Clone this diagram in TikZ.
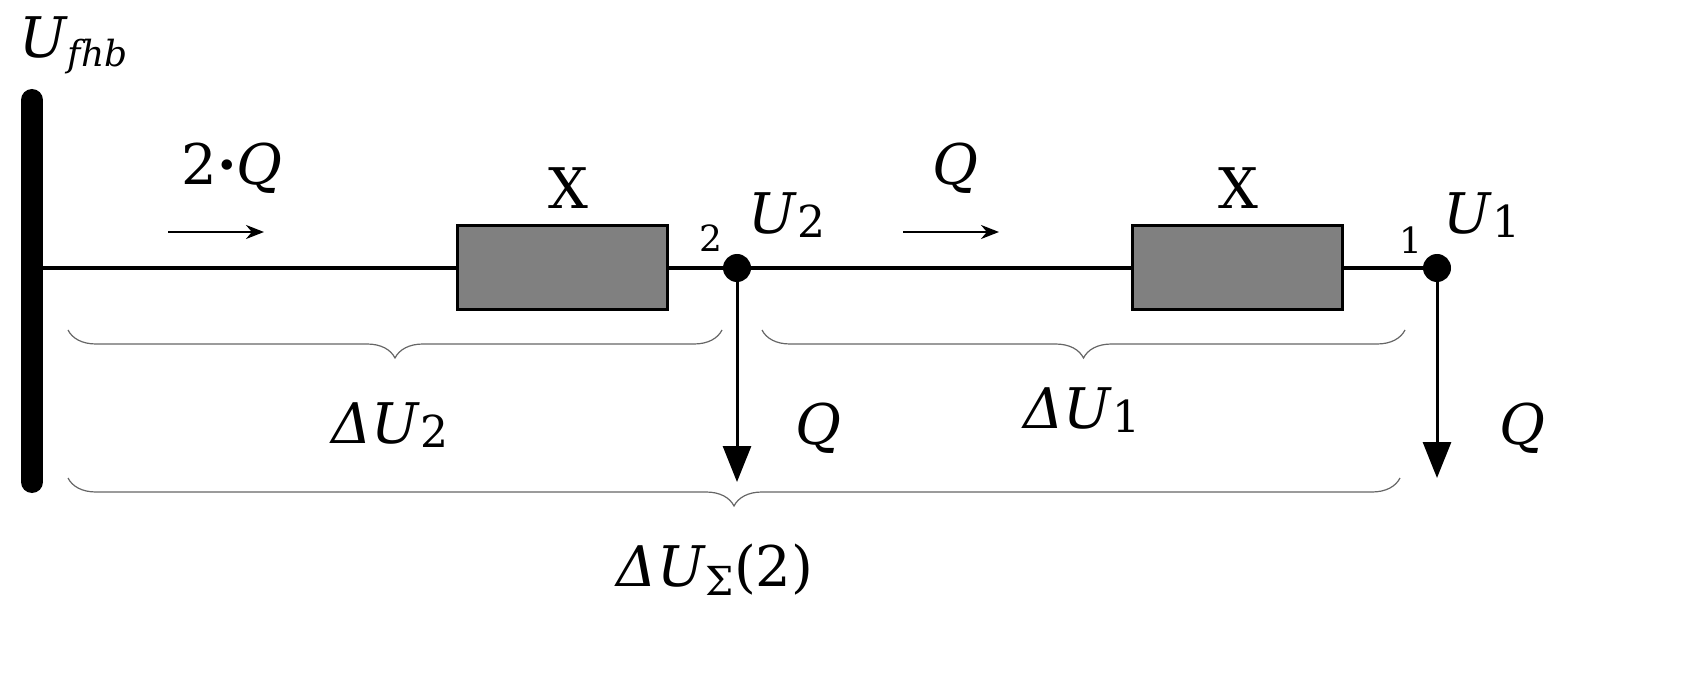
\documentclass[tikz,border=0pt]{standalone}
\usepackage{fontspec}
\setmainfont{DejaVu Serif}
\usetikzlibrary{decorations.pathreplacing,arrows.meta}
\newcommand{\sbs}[1]{\raisebox{-0.15ex}{\fontsize{22}{24}\selectfont #1}}
\begin{document}
\begin{tikzpicture}[x=0.5pt,y=-0.5pt,
  res/.style={draw=black,line width=1.5pt,fill=black!50,minimum width=105pt,minimum height=42pt,inner sep=0},
  dot/.style={circle,fill=black,minimum size=14pt,inner sep=0},
  lbl/.style={font=\fontsize{28}{30}\selectfont},
  brc/.style={decorate,draw=black!60,line width=0.6pt,decoration={brace,mirror,amplitude=14pt}},
  flow/.style={-{Stealth[length=9pt,width=7pt]},line width=1.2pt},
  load/.style={-{Triangle[length=18pt,width=14pt]},line width=1.5pt}]
\useasboundingbox (0,0) rectangle (1682,679);
\draw[line width=11pt,line cap=round] (32,100) coordinate (bt) -- (32,482) coordinate (bb);
\node[lbl,anchor=west] (uf) at (12,45) {\textit{U}\raisebox{-0.3ex}{\fontsize{18}{20}\selectfont\textit{fhb}}};
\coordinate (s) at (32,268);
\node[res] (x1) at (562,268) {};
\node[res] (x2) at (1237,268) {};
\node[dot] (n2) at (737,268) {};
\node[dot] (n1) at (1437,268) {};
\draw[line width=1.8pt] (s) -- (x1) -- (n2) -- (x2) -- (n1);
\node[lbl] (lx1) at (568,188) {X};
\node[lbl] (lx2) at (1238,188) {X};
\coordinate (a1) at (168,232); \coordinate (a2) at (264,232);
\draw[flow] (a1) -- (a2);
\node[lbl] (q0) at (232,168) {2\textbf{·}\textit{Q}};
\coordinate (b1) at (903,232); \coordinate (b2) at (999,232);
\draw[flow] (b1) -- (b2);
\node[lbl] (q1) at (955,168) {\textit{Q}};
\node[font=\fontsize{18}{20}\selectfont] (l2) at (711,238) {2};
\node[lbl] (u2) at (787,215) {\textit{U}\sbs{2}};
\node[font=\fontsize{18}{20}\selectfont] (l1) at (1411,240) {1};
\node[lbl] (u1) at (1482,215) {\textit{U}\sbs{1}};
\coordinate (d2) at (737,482); \coordinate (d1) at (1437,478);
\draw[load] (n2) -- (d2);
\draw[load] (n1) -- (d1);
\node[lbl] (q2) at (818,428) {\textit{Q}};
\node[lbl] (q3) at (1522,428) {\textit{Q}};
\coordinate (c1) at (68,330); \coordinate (c2) at (722,330);
\draw[brc] (c1) -- (c2);
\node[lbl] (du2) at (390,425) {\textit{ΔU}\sbs{2}};
\coordinate (c3) at (762,330); \coordinate (c4) at (1405,330);
\draw[brc] (c3) -- (c4);
\node[lbl] (du1) at (1082,410) {\textit{ΔU}\sbs{1}};
\coordinate (c5) at (68,478); \coordinate (c6) at (1400,478);
\draw[brc] (c5) -- (c6);
\node[lbl] (dus) at (715,570) {\textit{ΔU}\raisebox{-0.3ex}{\fontsize{20}{22}\selectfont Σ}(2)};
\end{tikzpicture}
\end{document}
